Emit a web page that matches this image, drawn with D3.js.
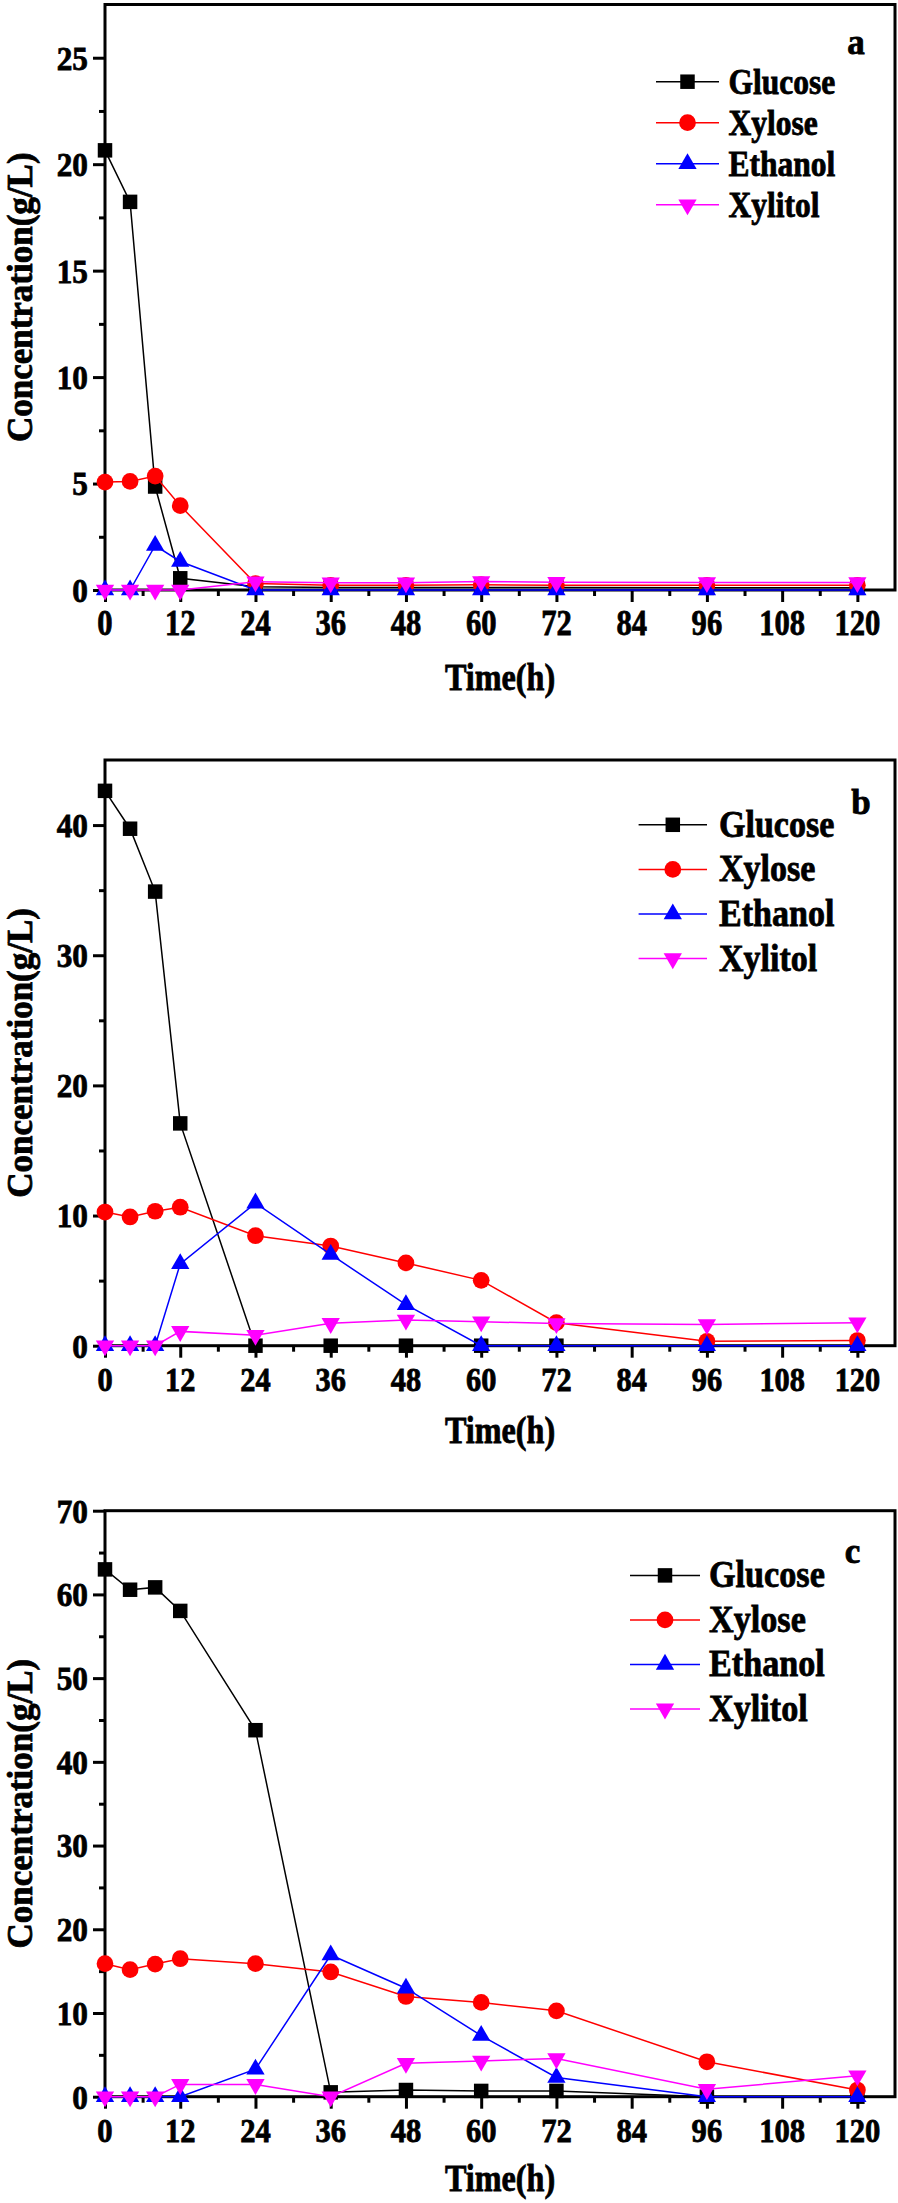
<!DOCTYPE html>
<html>
<head>
<meta charset="utf-8">
<script src="https://cdn.jsdelivr.net/npm/d3@7"></script>
<style>
  html, body { margin: 0; padding: 0; background: #fff; }
  svg { display: block; }
  text { font-family: "Liberation Serif", "Times New Roman", serif; font-weight: bold; fill: #000; stroke: #000; stroke-width: 0.8px; }
</style>
</head>
<body>
<svg id="chart" width="898" height="2203"></svg>
<script>
// ---------- data ----------
const timeH = [0, 4, 8, 12, 24, 36, 48, 60, 72, 96, 120];
const xTickValues = [0, 12, 24, 36, 48, 60, 72, 84, 96, 108, 120];
const xMinorTicks = [6, 18, 30, 42, 54, 66, 78, 90, 102, 114];
const seriesNames = ["Glucose", "Xylose", "Ethanol", "Xylitol"];
const seriesColors = ["#000000", "#ff0000", "#0000ff", "#ff00ff"];

// panel a
const glucoseA = [20.65, 18.23, 4.86, 0.55, 0.15, 0.12, 0.12, 0.12, 0.12, 0.1, 0.1];
const xyloseA  = [5.07, 5.1, 5.35, 3.96, 0.3, 0.22, 0.22, 0.25, 0.22, 0.22, 0.22];
const ethanolA = [0, 0, 2.09, 1.34, 0, 0, 0, 0, 0, 0, 0];
const xylitolA = [0, 0, 0, 0, 0.39, 0.34, 0.34, 0.4, 0.36, 0.35, 0.35];
const yTicksA = [0, 5, 10, 15, 20, 25];
const yMinorA = [2.5, 7.5, 12.5, 17.5, 22.5];

// panel b
const glucoseB = [42.63, 39.72, 34.89, 17.08, 0, 0, 0, 0, 0, 0, 0];
const xyloseB  = [10.27, 9.89, 10.33, 10.64, 8.45, 7.66, 6.36, 5.02, 1.77, 0.34, 0.4];
const ethanolB = [0, 0, 0, 6.29, 10.95, 7.01, 3.15, 0, 0, 0, 0];
const xylitolB = [0, 0, 0, 1.1, 0.8, 1.72, 1.98, 1.84, 1.71, 1.63, 1.77];
const yTicksB = [0, 10, 20, 30, 40];
const yMinorB = [5, 15, 25, 35];

// panel c
const glucoseC = [62.99, 60.56, 60.84, 58.03, 43.78, 0.52, 0.8, 0.69, 0.69, 0, 0];
const xyloseC  = [15.89, 15.17, 15.84, 16.48, 15.89, 14.9, 11.97, 11.26, 10.26, 4.17, 0.8];
const ethanolC = [0, 0, 0, 0, 3.28, 16.92, 12.96, 7.3, 2.29, 0, 0];
const xylitolC = [0, 0, 0, 1.47, 1.47, 0, 4.0, 4.27, 4.55, 0.88, 2.5];
const yTicksC = [0, 10, 20, 30, 40, 50, 60, 70];
const yMinorC = [5, 15, 25, 35, 45, 55, 65];

const panels = [
  { top: 4.5, bottom: 590, yMax: 27.5, yTicks: yTicksA, yMinor: yMinorA,
    series: [glucoseA, xyloseA, ethanolA, xylitolA], letter: "a",
    letterPos: [856, 53.6], legX: [656, 719, 728.5], legY0: 81.7, legDy: 41,
    legFont: 35, legScale: 0.9, tickFont: 36, tickScale: 0.85, titleDy: 100 },
  { top: 760, bottom: 1345.7, yMax: 45, yTicks: yTicksB, yMinor: yMinorB,
    series: [glucoseB, xyloseB, ethanolB, xylitolB], letter: "b",
    letterPos: [861, 813.7], legX: [638.6, 707, 719], legY0: 824.8, legDy: 44.6,
    legFont: 37, legScale: 0.92, tickFont: 33, tickScale: 0.92, titleDy: 97 },
  { top: 1510.7, bottom: 2096.7, yMax: 70, yTicks: yTicksC, yMinor: yMinorC,
    series: [glucoseC, xyloseC, ethanolC, xylitolC], letter: "c",
    letterPos: [852.5, 1563], legX: [630, 700, 709], legY0: 1575.4, legDy: 44.5,
    legFont: 38, legScale: 0.9, tickFont: 34, tickScale: 0.9, titleDy: 94 }
];

const left = 105, right = 895;
const svg = d3.select("#chart");

const symbolFor = [
  d3.symbol().type(d3.symbolSquare).size(210),
  d3.symbol().type(d3.symbolCircle).size(220),
  d3.symbol().type(d3.symbolTriangle).size(145),
  d3.symbol().type(d3.symbolTriangle).size(145)
];
const symbolRot = [0, 0, 0, 180];

panels.forEach(p => {
  const g = svg.append("g");
  const x = d3.scaleLinear().domain([0, 126]).range([left, right]);
  const y = d3.scaleLinear().domain([0, p.yMax]).range([p.bottom, p.top]);

  // axes (ticks only; frame drawn separately)
  const xMajor = g.append("g").attr("transform", `translate(0,${p.bottom})`)
    .call(d3.axisBottom(x).tickValues(xTickValues).tickSize(12).tickSizeOuter(0).tickFormat(""));
  const xMin = g.append("g").attr("transform", `translate(0,${p.bottom})`)
    .call(d3.axisBottom(x).tickValues(xMinorTicks).tickSize(6).tickSizeOuter(0).tickFormat(""));
  const yMajor = g.append("g").attr("transform", `translate(${left},0)`)
    .call(d3.axisLeft(y).tickValues(p.yTicks).tickSize(12).tickSizeOuter(0).tickFormat(""));
  const yMin = g.append("g").attr("transform", `translate(${left},0)`)
    .call(d3.axisLeft(y).tickValues(p.yMinor).tickSize(6).tickSizeOuter(0).tickFormat(""));
  [xMajor, xMin, yMajor, yMin].forEach(a => {
    a.select(".domain").remove();
    a.selectAll("line").attr("stroke", "#000").attr("stroke-width", 3);
  });

  // tick labels
  xTickValues.forEach(v => {
    g.append("text")
      .attr("transform", `translate(${x(v)},${p.bottom + 45}) scale(${p.tickScale},1)`)
      .attr("text-anchor", "middle")
      .style("font-size", p.tickFont + "px")
      .text(v);
  });
  p.yTicks.forEach(v => {
    g.append("text")
      .attr("transform", `translate(${left - 17},${y(v)}) scale(0.92,1)`)
      .attr("text-anchor", "end")
      .attr("dy", "0.35em")
      .style("font-size", "34px")
      .text(v);
  });

  // frame
  g.append("rect")
    .attr("x", left).attr("y", p.top)
    .attr("width", right - left).attr("height", p.bottom - p.top)
    .attr("fill", "none").attr("stroke", "#000").attr("stroke-width", 3);

  // axis titles
  g.append("text")
    .attr("transform", `translate(${(left + right) / 2},${p.bottom + p.titleDy}) scale(0.87,1)`)
    .attr("text-anchor", "middle")
    .style("font-size", "37px")
    .text("Time(h)");
  g.append("text")
    .attr("transform", `translate(32,${(p.top + p.bottom) / 2}) rotate(-90)`)
    .attr("text-anchor", "middle")
    .style("font-size", "35px")
    .text("Concentration(g/L)");

  // series
  const line = d3.line().x((d, i) => x(timeH[i])).y(d => y(d));
  p.series.forEach((vals, si) => {
    const col = seriesColors[si];
    g.append("path").datum(vals)
      .attr("d", line).attr("fill", "none")
      .attr("stroke", col).attr("stroke-width", 1.5);
    g.selectAll(null).data(vals).enter().append("path")
      .attr("d", symbolFor[si])
      .attr("transform", (d, i) => `translate(${x(timeH[i])},${y(d)}) rotate(${symbolRot[si]})`)
      .attr("fill", col);
  });

  // legend
  seriesNames.forEach((name, si) => {
    const ly = p.legY0 + si * p.legDy;
    const col = seriesColors[si];
    g.append("line")
      .attr("x1", p.legX[0]).attr("x2", p.legX[1])
      .attr("y1", ly).attr("y2", ly)
      .attr("stroke", col).attr("stroke-width", 1.5);
    g.append("path")
      .attr("d", symbolFor[si])
      .attr("transform", `translate(${(p.legX[0] + p.legX[1]) / 2},${ly}) rotate(${symbolRot[si]})`)
      .attr("fill", col);
    g.append("text")
      .attr("transform", `translate(${p.legX[2]},${ly + 12}) scale(${p.legScale},1)`)
      .style("font-size", p.legFont + "px")
      .text(name);
  });

  // panel letter
  g.append("text")
    .attr("transform", `translate(${p.letterPos[0]},${p.letterPos[1]})`)
    .attr("text-anchor", "middle")
    .style("font-size", "35px")
    .text(p.letter);
});
</script>
</body>
</html>
